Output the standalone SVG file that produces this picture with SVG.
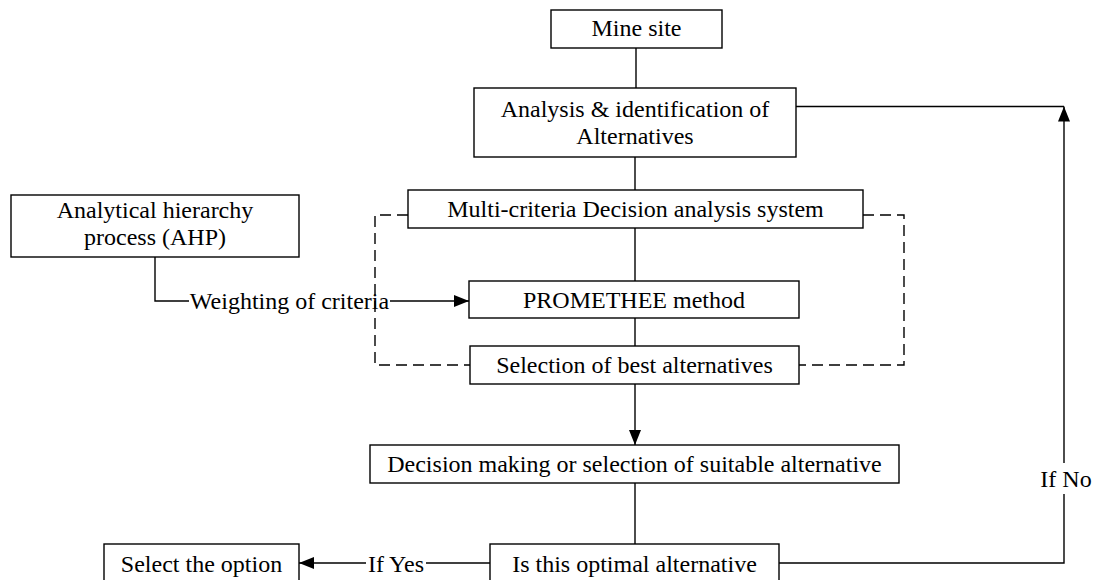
<svg xmlns="http://www.w3.org/2000/svg" width="1099" height="580" viewBox="0 0 1099 580" font-family="'Liberation Serif', 'DejaVu Serif', 'Times New Roman', serif">
  <style>
    .box { fill: #ffffff; stroke: #000000; stroke-width: 1.4; }
    text { font-family: 'Liberation Serif', 'DejaVu Serif', 'Times New Roman', serif; font-size: 24px; fill: #000000; text-anchor: middle; }
    .edge { fill: none; stroke: #000000; stroke-width: 1.4; }
    .dash { fill: none; stroke: #000000; stroke-width: 1.4; stroke-dasharray: 11 6; }
  </style>
  <defs>
    <marker id="arrow" viewBox="0 0 15 12" refX="15" refY="6" markerWidth="15" markerHeight="12" markerUnits="userSpaceOnUse" orient="auto">
      <path d="M0,0 L15,6 L0,12 Z" fill="#000000"/>
    </marker>
  </defs>
  <rect width="1099" height="580" fill="#ffffff"/>

  <!-- connectors -->
  <g id="connectors">
    <path class="edge" d="M636,48 V88"/>
    <path class="edge" d="M635,157 V190"/>
    <path class="edge" d="M635,228 V281"/>
    <path class="edge" d="M635,318 V346"/>
    <path class="edge" d="M635,384 V445" marker-end="url(#arrow)"/>
    <path class="edge" d="M635,483 V544"/>
    <!-- AHP weighting into PROMETHEE -->
    <path class="edge" d="M155,257 V301 H189"/>
    <path class="edge" d="M390,301 H469" marker-end="url(#arrow)"/>
    <!-- If Yes branch -->
    <path class="edge" d="M490,563 H426"/>
    <path class="edge" d="M366,563 H299" marker-end="url(#arrow)"/>
    <!-- If No feedback loop -->
    <path class="edge" d="M779,563 H1064 V494"/>
    <path class="edge" d="M1064,463 V106.5" marker-end="url(#arrow)"/>
    <path class="edge" d="M796,106.5 H1064"/>
    <!-- dashed grouping around the MCDA block -->
    <path class="dash" d="M408,215 H375 V365 H470"/>
    <path class="dash" d="M863,215 H904 V365 H799"/>
    <text x="289.5" y="309">Weighting of criteria</text>
    <text x="396" y="572">If Yes</text>
    <text x="1066" y="487">If No</text>
  </g>

  <g id="mine-site">
    <rect class="box" x="551" y="10" width="171" height="38"/>
    <text x="636.5" y="36">Mine site</text>
  </g>

  <g id="analysis">
    <rect class="box" x="474" y="88" width="322" height="69"/>
    <text x="635" y="116.5">Analysis &amp; identification of</text>
    <text x="635" y="143.5">Alternatives</text>
  </g>

  <g id="ahp">
    <rect class="box" x="11" y="195" width="288" height="62"/>
    <text x="155" y="218">Analytical hierarchy</text>
    <text x="155" y="245">process (AHP)</text>
  </g>

  <g id="mcda">
    <rect class="box" x="408" y="190" width="455" height="38"/>
    <text x="635.5" y="217">Multi-criteria Decision analysis system</text>
  </g>

  <g id="promethee">
    <rect class="box" x="469" y="281" width="330" height="37"/>
    <text x="634" y="307.5">PROMETHEE method</text>
  </g>

  <g id="selection">
    <rect class="box" x="470" y="346" width="329" height="38"/>
    <text x="634.5" y="373">Selection of best alternatives</text>
  </g>

  <g id="decision">
    <rect class="box" x="370" y="445" width="529" height="38"/>
    <text x="634.5" y="472">Decision making or selection of suitable alternative</text>
  </g>

  <g id="optimal">
    <rect class="box" x="490" y="544" width="289" height="56"/>
    <text x="634.5" y="572">Is this optimal alternative</text>
  </g>

  <g id="select-option">
    <rect class="box" x="104" y="544" width="195" height="56"/>
    <text x="201.5" y="572">Select the option</text>
  </g>
</svg>
